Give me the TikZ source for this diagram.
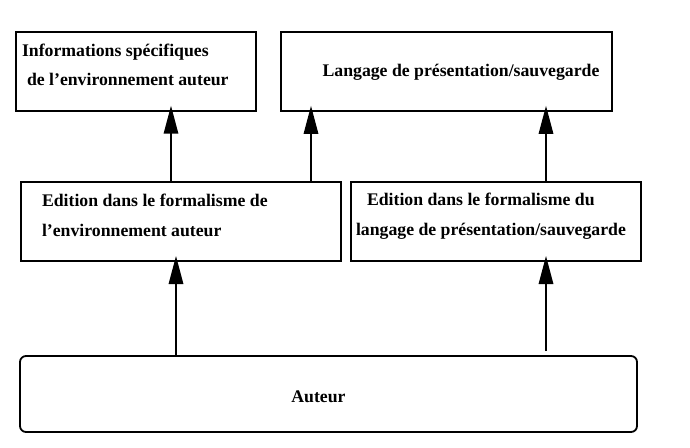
\documentclass[tikz,border=0pt]{standalone}
\usepackage{fontspec}
\setmainfont{Liberation Serif}
\usetikzlibrary{arrows.meta}
\begin{document}
\begin{tikzpicture}[x=1bp,y=-1bp,
  box/.style={draw=black,line width=1.8bp,minimum width=#1,inner sep=0pt,outer sep=0pt},
  lbl/.style={inner sep=0pt,outer sep=0pt,font=\fontsize{17.8}{20}\selectfont\bfseries},
  arr/.style={line width=1.5bp,-{Triangle[length=28bp,width=14.5bp]},shorten >=-5bp}]
\useasboundingbox (0,0) rectangle (690,448);
\fill[white] (0,0) rectangle (690,448);
% boxes
\node[box=240bp,minimum height=78.5bp] (b1) at (135.7,71.5) {};
\node[box=331bp,minimum height=78.5bp] (b2) at (446.5,71.6) {};
\node[box=320bp,minimum height=79bp] (b3) at (181,221.5) {};
\node[box=290bp,minimum height=79bp] (b4) at (496,221.5) {};
\node[box=617bp,minimum height=76bp,rounded corners=6bp] (b5) at (328.5,394) {};
% texts
\node[lbl,anchor=base west] (t1a) at (22,57) {Informations spécifiques};
\node[lbl,anchor=base west] (t1b) at (27,86) {de l’environnement auteur};
\node[lbl,anchor=base] (t2) at (461,77) {Langage de présentation/sauvegarde};
\node[lbl,anchor=base west] (t3a) at (42,207) {Edition dans le formalisme de};
\node[lbl,anchor=base west] (t3b) at (42,237) {l’environnement auteur};
\node[lbl,anchor=base west] (t4a) at (367,206) {Edition dans le formalisme du};
\node[lbl,anchor=base west] (t4b) at (356,236) {langage de présentation/sauvegarde};
\node[lbl,anchor=base] (t5) at (318.5,402) {Auteur};
% x positions of connectors
\coordinate (xa) at (171,0);
\coordinate (xb) at (311,0);
\coordinate (xc) at (546,0);
\coordinate (xd) at (176,0);
\coordinate (e5) at (546,351);
% connectors
\draw[arr] (b3.north -| xa) -- (b1.south -| xa);
\draw[arr] (b3.north -| xb) -- (b2.south -| xb);
\draw[arr] (b4.north -| xc) -- (b2.south -| xc);
\draw[arr] (b5.north -| xd) -- (b3.south -| xd);
\draw[arr] (e5) -- (b4.south -| xc);
\end{tikzpicture}
\end{document}
